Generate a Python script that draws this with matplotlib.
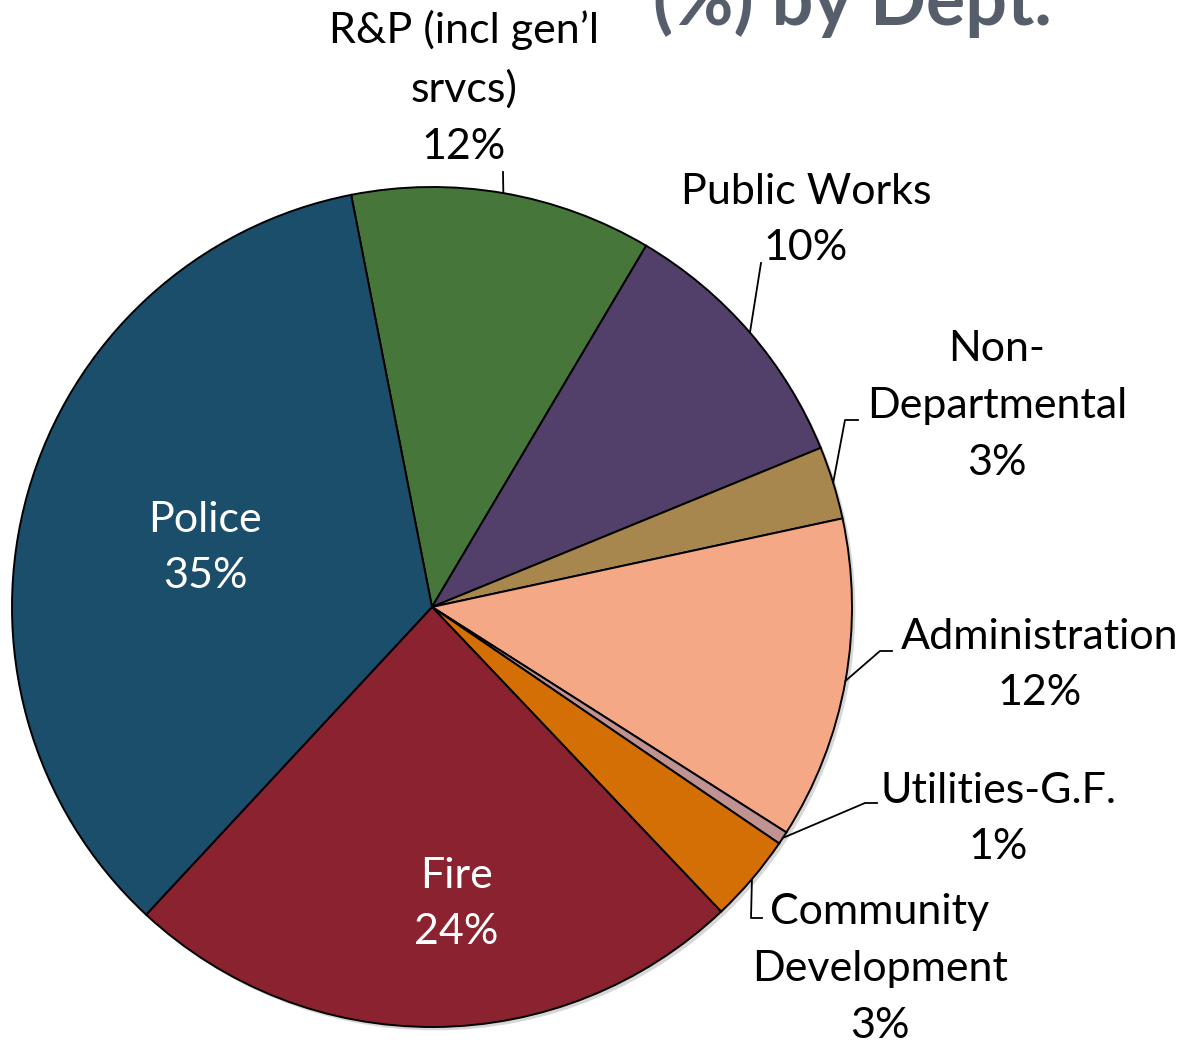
import numpy as np
import matplotlib.pyplot as plt
from matplotlib.patches import Circle

# slices, clockwise from the Police/R&P boundary
depts = ["R&P (incl gen’l\nsrvcs)", "Public Works", "Non-\nDepartmental", "Administration",
         "Utilities-G.F.", "Community\nDevelopment", "Fire", "Police"]
shares = [11.6, 10.3, 2.8, 12.4, 0.5, 3.4, 24.0, 35.0]
colors = ["#46763A", "#53406A", "#A8874F", "#F4A886", "#C09292", "#D46F06", "#8B2230", "#1B4E6B"]

W, H = 1188, 1046
CX, CY, R = 432, 607, 420

def px(x, y):
    return (x - CX) / R, (CY - y) / R

plt.rcParams['font.family'] = ['Lato', 'DejaVu Sans']
fig = plt.figure(figsize=(W / 100, H / 100), dpi=100)
ax = fig.add_axes([0, 0, 1, 1])

# faint shadow under the pie
ax.add_patch(Circle((0.008, -0.008), 1.0, color='#b0b0b0', alpha=0.5, zorder=0, lw=0))

wedges, _ = ax.pie(shares, colors=colors, startangle=101.1, counterclock=False, radius=1.0,
                   center=(0, 0), frame=True,
                   wedgeprops=dict(edgecolor='black', linewidth=1.4))
ax.set_xlim(px(0, 0)[0], px(W, 0)[0])
ax.set_ylim(px(0, H)[1], px(0, 0)[1])
ax.set_aspect('auto')
ax.axis('off')

fs = 31
ls = 1.6
# outside labels: text centre (px), elbow (px), end (px)
outside = {
    0: ((464, 88), None, (503, 172)),
    1: ((806, 220), None, (761, 263)),
    2: ((997, 406), (845, 420), (858, 420)),
    3: ((1040, 665), (880, 651), (892, 651)),
    4: ((998, 819), (865, 803), (877, 803)),
    5: ((880, 969), (751, 918), (762, 918)),
}
for i, w in enumerate(wedges):
    pct = f"{max(1, round(shares[i])):.0f}%"
    label = depts[i] + "\n" + pct
    if i in outside:
        (tx, ty), elbow, end = outside[i]
        ax.text(*px(tx, ty), label, ha='center', va='center', fontsize=fs,
                linespacing=ls, color='black')
        mid = np.deg2rad((w.theta1 + w.theta2) / 2)
        xs = [np.cos(mid)]
        ys = [np.sin(mid)]
        for p in (elbow, end):
            if p is not None:
                xs.append(px(*p)[0])
                ys.append(px(*p)[1])
        ax.plot(xs, ys, color='black', lw=1.3)

ax.text(*px(205, 548), depts[7] + "\n35%", ha='center', va='center', fontsize=fs,
        linespacing=ls, color='white')
ax.text(*px(456, 904), depts[6] + "\n24%", ha='center', va='center', fontsize=fs,
        linespacing=ls, color='white')

# slide title, cut off by the top edge as in the original
fig.text(653 / W, 1 - 25 / H, "(%) by Dept.", ha='left', va='baseline', fontsize=53,
         fontweight='bold', color='#575E6B')

fig.savefig("out.png", dpi=100)
